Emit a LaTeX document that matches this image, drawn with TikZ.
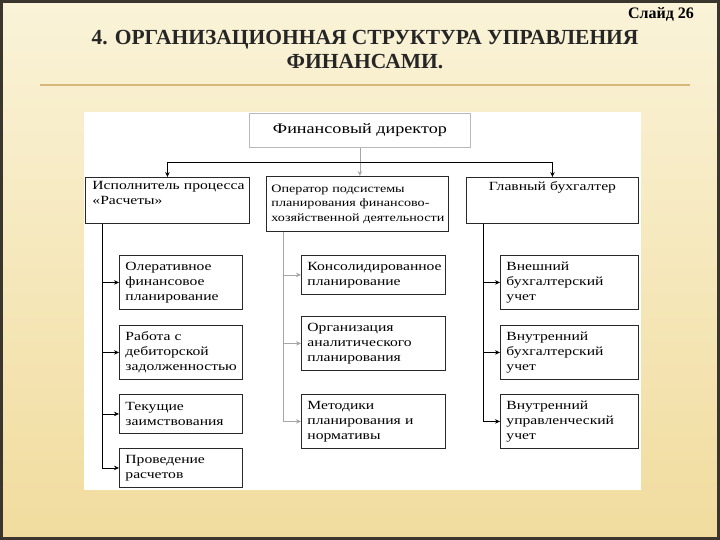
\documentclass[tikz,border=0pt]{standalone}
\usepackage{fontspec}
\setmainfont{Liberation Serif}
\newfontfamily\chartfont[FakeStretch=1.25]{Liberation Serif}
\usetikzlibrary{positioning,arrows.meta}
\definecolor{slidecream}{RGB}{250,243,216}
\definecolor{slidegold}{RGB}{241,220,158}
\definecolor{ruletan}{RGB}{214,184,124}
\definecolor{framedark}{RGB}{58,54,46}
\definecolor{inkgray}{RGB}{40,40,40}
\tikzset{
  unit/.style={draw=inkgray,line width=0.9pt,fill=white,align=left,anchor=north west,inner xsep=6pt,inner ysep=4pt,font=\chartfont\fontsize{12.5}{15}\selectfont},
  tri/.style={unit,minimum height=54pt},
  duo/.style={unit,minimum height=39pt},
  chief/.style={draw=gray!55,line width=0.8pt,fill=white,anchor=north west,minimum width=221pt,minimum height=34pt,font=\chartfont\fontsize{14.5}{17}\selectfont},
  link/.style={line width=0.8pt,-{Stealth[length=5pt,width=4.5pt]}},
}
\newcommand{\toptext}[2]{\parbox[c][#1][t]{\linewidth}{#2}}

\begin{document}
\begin{tikzpicture}[x=1pt,y=-1pt]
  \useasboundingbox (0,0) rectangle (720,540);
  % slide background and frame
  \shade[top color=slidecream,bottom color=slidegold] (0,0) rectangle (720,540);
  \draw[framedark,line width=3pt] (1.5,1.5) rectangle (718.5,538.5);
  \node[font=\bfseries\fontsize{16}{19}\selectfont] (slide) at (661,14) {Слайд 26};
  \node[font=\bfseries\fontsize{21.5}{24}\selectfont,align=center,text=black!85] (title) at (365,50)
    {4. ОРГАНИЗАЦИОННАЯ СТРУКТУРА УПРАВЛЕНИЯ\\ФИНАНСАМИ.};
  \draw[ruletan,line width=1.5pt] (40,85) -- (690,85);
  \fill[white] (84,112) rectangle (641,490);

  % top level
  \node[chief] (fd) at (249,113) {Финансовый директор};
  \node[unit,text width=150pt,inner xsep=7pt] (isp) at (85,177)
    {\toptext{38pt}{\mbox{Исполнитель процесса}\\«Расчеты»}};
  \node[unit,text width=172pt,inner xsep=5pt,minimum height=55pt,font=\chartfont\fontsize{11.3}{14.5}\selectfont] (op) at (266,176)
    {Оператор подсистемы\\\mbox{планирования финансово-}\\\mbox{хозяйственной деятельности}};
  \node[unit,text width=160pt] (gb) at (466,177)
    {\toptext{38pt}{\centering Главный бухгалтер}};

  % left column
  \node[tri,text width=111pt] (ofp) at (119,255) {Олеративное\\финансовое\\планирование};
  \node[tri,text width=111pt] (deb) at (119,325) {Работа с\\дебиторской\\задолженностью};
  \node[duo,text width=111pt] (zaim) at (119,394) {Текущие\\заимствования};
  \node[duo,text width=111pt] (rasch) at (119,448) {Проведение\\расчетов};

  % middle column
  \node[duo,text width=132pt] (kons) at (301,255) {Консолидированное\\планирование};
  \node[tri,text width=132pt] (anal) at (301,316) {Организация\\аналитического\\планирования};
  \node[tri,text width=132pt] (norm) at (301,394) {Методики\\планирования и\\нормативы};

  % right column
  \node[tri,text width=126pt] (vnesh) at (500,255) {Внешний\\бухгалтерский\\учет};
  \node[tri,text width=126pt] (vnubuh) at (500,325) {Внутренний\\бухгалтерский\\учет};
  \node[tri,text width=126pt] (vnuupr) at (500,394) {Внутренний\\управленческий\\учет};

  % connectors
  \coordinate (bus) at ([yshift=-15pt]fd.south);
  \draw[link,draw=gray!70] (fd.south) -- (fd.south |- op.north);
  \draw[link] (bus) -| (isp.north);
  \draw[link] (bus) -| (gb.north);
  \foreach \sub in {ofp,deb,zaim,rasch}
    \draw[link] ([xshift=17pt]isp.south west) |- (\sub.west);
  \foreach \sub in {kons,anal,norm}
    \draw[link,draw=gray!70] ([xshift=17pt]op.south west) |- (\sub.west);
  \foreach \sub in {vnesh,vnubuh,vnuupr}
    \draw[link] ([xshift=17pt]gb.south west) |- (\sub.west);
\end{tikzpicture}
\end{document}
